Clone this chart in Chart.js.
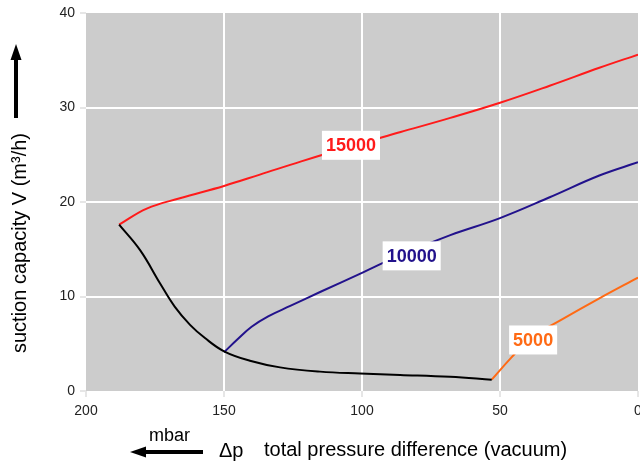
<!DOCTYPE html>
<html><head><meta charset="utf-8">
<script src="https://cdn.jsdelivr.net/npm/chart.js@4"></script>
<style>html,body{margin:0;padding:0;background:#fff}#wrap{width:640px;height:463px}</style>
</head><body><div id="wrap"><canvas id="c" width="640" height="463"></canvas></div>
<script>
// Data (x = pressure difference in mbar, y = suction capacity in m³/h)
const s15000X = [188, 178, 166, 150, 137, 122, 104, 86, 68, 50, 32, 14, 0];
const s15000Y = [17.6, 19.3, 20.4, 21.7, 22.9, 24.3, 25.9, 27.4, 28.9, 30.5, 32.3, 34.2, 35.6];
const s10000X = [150, 145, 140, 134, 126, 115, 100, 86, 68, 50, 32, 14, 0];
const s10000Y = [4.1, 5.5, 6.8, 7.9, 9.0, 10.5, 12.5, 14.4, 16.5, 18.3, 20.5, 22.8, 24.2];
const limitX = [188, 180.4, 173.2, 167.8, 162.3, 156.9, 150, 140.6, 129.7, 115.2, 100.7, 86.2, 68.1, 53];
const limitY = [17.6, 14.9, 11.4, 8.9, 7.0, 5.6, 4.2, 3.2, 2.5, 2.05, 1.85, 1.7, 1.5, 1.2];
const s5000X = [53, 46, 39, 28, 14, 0];
const s5000Y = [1.2, 3.5, 5.6, 7.5, 9.8, 12.0];
const seriesNames = ['15000', '10000', '5000'];
const labelX = [104, 82, 38];
const labelY = [26.0, 14.3, 5.4];
const xTicks = [200, 150, 100, 50, 0];
const yTicks = [0, 10, 20, 30, 40];

const colRed = '#ff1a1a', colBlue = '#22128c', colOrange = '#ff6a14', colBlack = '#000000';
const pts = (xs, ys) => xs.map((x, i) => ({x, y: ys[i]}));
const FONT = '"Liberation Sans", Arial, sans-serif';

const bgPlugin = {
  id: 'bg',
  beforeDraw(chart) {
    const {ctx, chartArea: a} = chart;
    ctx.save(); ctx.fillStyle = '#cccccc';
    ctx.fillRect(a.left, a.top, a.right - a.left, a.bottom - a.top);
    ctx.restore();
  }
};
const labelPlugin = {
  id: 'lbl',
  afterDatasetsDraw(chart) {
    const {ctx, scales} = chart;
    const cols = [colRed, colBlue, colOrange];
    ctx.save();
    ctx.font = 'bold 18px ' + FONT;
    ctx.textAlign = 'center'; ctx.textBaseline = 'middle';
    seriesNames.forEach((t, i) => {
      const px = scales.x.getPixelForValue(labelX[i]);
      const py = scales.y.getPixelForValue(labelY[i]);
      const w = ctx.measureText(t).width + 8, h = 29;
      ctx.fillStyle = '#fff';
      ctx.fillRect(px - w / 2, py - h / 2, w, h);
      ctx.fillStyle = cols[i];
      ctx.fillText(t, px, py + 1);
    });
    ctx.restore();
  }
};
const titlePlugin = {
  id: 'titles',
  afterDraw(chart) {
    const ctx = chart.ctx;
    ctx.save();
    ctx.fillStyle = '#000';
    ctx.font = '20px ' + FONT;
    // y title
    ctx.save(); ctx.translate(20, 243); ctx.rotate(-Math.PI / 2);
    ctx.textAlign = 'center'; ctx.textBaseline = 'middle';
    ctx.fillText('suction capacity V (m³/h)', 0, 0);
    ctx.restore();
    // up arrow
    ctx.fillRect(14, 58, 4, 60);
    ctx.beginPath(); ctx.moveTo(16, 44); ctx.lineTo(10.5, 60); ctx.lineTo(21.5, 60); ctx.closePath(); ctx.fill();
    // x title
    ctx.textBaseline = 'middle'; ctx.textAlign = 'left';
    ctx.font = '18px ' + FONT;
    ctx.fillText('mbar', 149, 436);
    ctx.font = '20px ' + FONT;
    ctx.fillText('\u0394p', 219, 451);
    ctx.fillText('total pressure difference (vacuum)', 264, 450);
    // left arrow
    ctx.fillRect(144, 450, 59, 4);
    ctx.beginPath(); ctx.moveTo(130, 452); ctx.lineTo(146, 446.5); ctx.lineTo(146, 457.5); ctx.closePath(); ctx.fill();
    ctx.restore();
  }
};

const ds = (data, color) => ({data, borderColor: color, backgroundColor: color, borderWidth: 2, pointRadius: 0, showLine: true, tension: 0.4, fill: false});

new Chart(document.getElementById('c'), {
  type: 'scatter',
  data: {datasets: [
    ds(pts(limitX, limitY), colBlack),
    ds(pts(s15000X, s15000Y), colRed),
    ds(pts(s10000X, s10000Y), colBlue),
    ds(pts(s5000X, s5000Y), colOrange)
  ]},
  options: {
    responsive: false, animation: false, devicePixelRatio: 1,
    layout: {padding: {top: 13, right: 2, left: 0, bottom: 0}},
    plugins: {legend: {display: false}, tooltip: {enabled: false}},
    scales: {
      x: {
        type: 'linear', reverse: true, min: 0, max: 200,
        afterFit(s) { s.height = 72; s.paddingRight = 0; s.paddingLeft = 0; },
        afterBuildTicks(s) { s.ticks = xTicks.map(v => ({value: v})); },
        grid: {color: c => (c.tick && (c.tick.value === 0 || c.tick.value === 200)) ? 'rgba(0,0,0,0)' : '#ffffff', lineWidth: 2, tickLength: 6, tickColor: '#e6e6e6', drawTicks: true},
        border: {display: false},
        ticks: {color: '#222', padding: 6, maxRotation: 0, autoSkip: false, font: {size: 14, family: FONT}}
      },
      y: {
        min: 0, max: 40,
        afterFit(s) { s.width = 86; s.paddingTop = 0; s.paddingBottom = 0; },
        afterBuildTicks(s) { s.ticks = yTicks.map(v => ({value: v})); },
        grid: {color: c => (c.tick && (c.tick.value === 0 || c.tick.value === 40)) ? 'rgba(0,0,0,0)' : '#ffffff', lineWidth: 2, tickLength: 6, tickColor: '#e6e6e6'},
        border: {display: false},
        ticks: {color: '#222', padding: 5, font: {size: 14, family: FONT}}
      }
    }
  },
  plugins: [bgPlugin, labelPlugin, titlePlugin]
});
</script></body></html>
